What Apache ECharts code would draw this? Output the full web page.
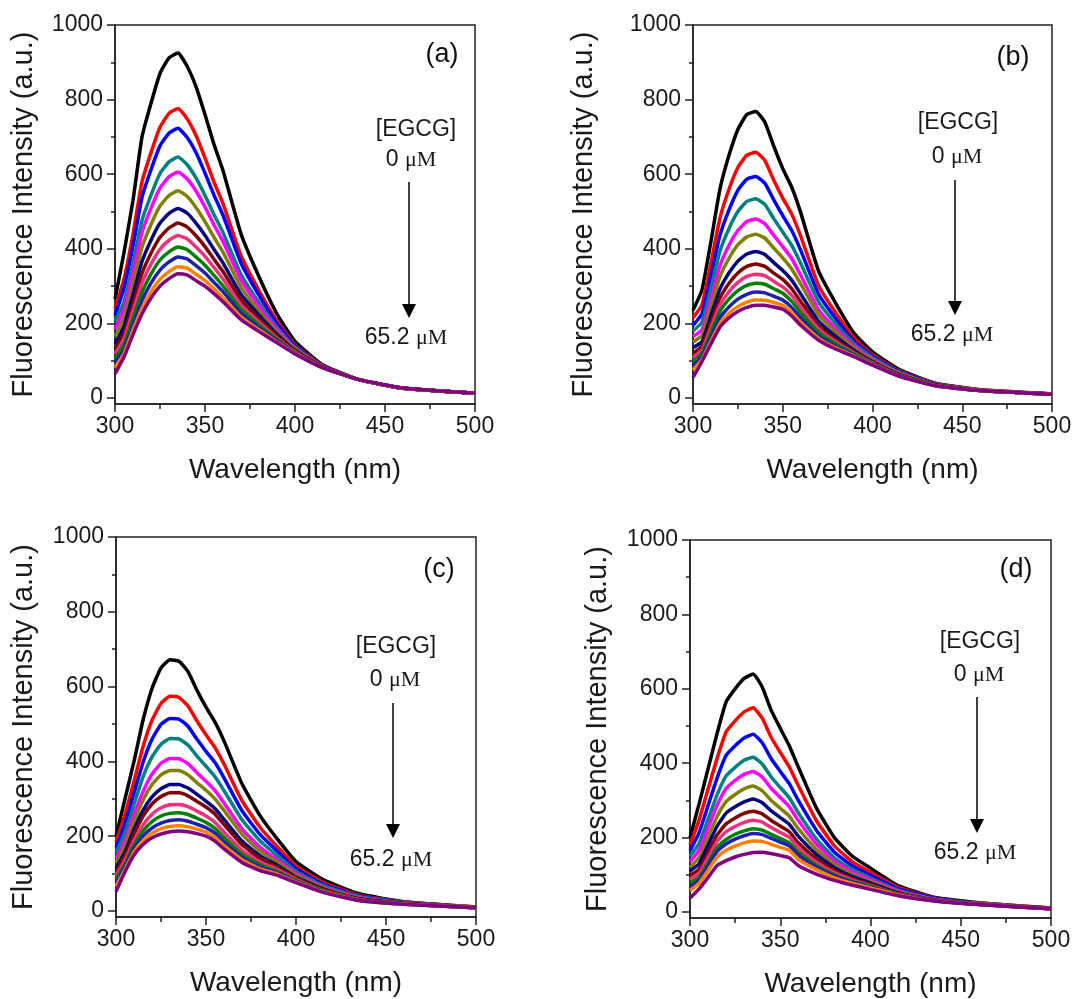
<!DOCTYPE html>
<html>
<head>
<meta charset="utf-8">
<script src="https://cdn.jsdelivr.net/npm/echarts@6/dist/echarts.min.js"></script>
<style>
  html, body { margin: 0; padding: 0; background: #fff; }
  #chart { width: 1076px; height: 999px; }
</style>
</head>
<body>
<div id="chart"></div>
<script>
// wavelength grid (nm) the spectra were read at
const wavelength = [300, 305, 310, 315, 320, 325, 330, 335, 340, 345, 350, 355, 360, 370, 380, 390, 400, 415, 435, 460, 500];

// one row per EGCG step, 0 uM (black) -> 65.2 uM (purple)
const intensityA = [
  [265, 390, 530, 700, 790, 870, 912, 925, 890, 835, 760, 680, 610, 440, 325, 225, 152, 90, 50, 26, 13],
  [240, 319, 439, 580, 658, 726, 763, 776, 749, 704, 644, 579, 521, 382, 288, 206, 143, 88, 50, 26, 13],
  [222, 295, 407, 538, 612, 676, 710, 723, 699, 658, 603, 544, 490, 362, 275, 199, 140, 87, 50, 26, 13],
  [205, 258, 360, 476, 544, 602, 633, 646, 626, 590, 543, 492, 444, 332, 256, 189, 136, 86, 50, 26, 13],
  [185, 239, 336, 444, 509, 563, 593, 606, 588, 555, 512, 464, 420, 316, 246, 183, 134, 86, 50, 26, 13],
  [165, 216, 306, 404, 465, 515, 543, 556, 541, 511, 473, 431, 391, 297, 233, 177, 131, 85, 50, 26, 13],
  [145, 193, 277, 366, 423, 469, 495, 508, 496, 469, 436, 398, 362, 278, 222, 171, 128, 84, 50, 26, 13],
  [130, 174, 253, 334, 388, 431, 456, 469, 459, 435, 406, 372, 339, 263, 212, 166, 126, 84, 50, 26, 13],
  [118, 159, 233, 308, 359, 399, 423, 436, 427, 405, 380, 350, 319, 250, 204, 161, 124, 83, 50, 26, 13],
  [105, 144, 214, 283, 332, 370, 392, 405, 398, 378, 356, 329, 301, 238, 196, 157, 122, 83, 50, 26, 13],
  [95, 131, 197, 261, 308, 343, 365, 378, 373, 355, 335, 310, 285, 227, 189, 154, 121, 82, 50, 26, 13],
  [82, 119, 182, 240, 285, 318, 339, 352, 348, 332, 315, 293, 269, 217, 183, 150, 119, 82, 50, 26, 13],
  [65, 110, 170, 225, 268, 300, 320, 333, 330, 315, 300, 280, 258, 210, 178, 148, 118, 82, 50, 27, 13]
];

const intensityB = [
  [235, 290, 420, 560, 650, 720, 760, 768, 740, 675, 615, 565, 497, 340, 250, 172, 124, 76, 40, 22, 11],
  [215, 250, 362, 482, 559, 618, 651, 659, 637, 584, 536, 493, 434, 301, 225, 159, 116, 72, 39, 22, 11],
  [195, 226, 328, 436, 504, 557, 587, 594, 576, 531, 489, 449, 396, 278, 210, 151, 112, 70, 38, 21, 11],
  [180, 203, 296, 393, 454, 500, 527, 534, 519, 481, 445, 409, 361, 257, 196, 144, 108, 68, 37, 21, 11],
  [165, 183, 267, 355, 409, 449, 473, 480, 467, 436, 406, 374, 329, 237, 183, 138, 104, 66, 36, 21, 10],
  [150, 168, 246, 325, 374, 411, 432, 439, 429, 402, 376, 346, 306, 223, 174, 133, 101, 65, 36, 21, 10],
  [135, 151, 221, 292, 335, 367, 386, 393, 385, 363, 342, 316, 279, 206, 163, 127, 98, 63, 35, 20, 10],
  [120, 139, 203, 268, 307, 335, 353, 359, 353, 335, 318, 293, 259, 194, 155, 123, 96, 62, 35, 20, 10],
  [108, 129, 189, 249, 285, 310, 326, 332, 328, 313, 298, 275, 243, 185, 149, 120, 94, 61, 34, 20, 10],
  [97, 120, 176, 232, 265, 288, 302, 308, 305, 293, 281, 259, 229, 176, 144, 117, 92, 60, 34, 20, 10],
  [87, 111, 163, 215, 244, 265, 278, 284, 282, 273, 263, 243, 215, 167, 138, 114, 90, 59, 33, 20, 10],
  [75, 103, 152, 200, 227, 245, 257, 263, 262, 256, 248, 229, 203, 160, 133, 112, 89, 58, 33, 20, 10],
  [55, 98, 145, 190, 215, 232, 243, 249, 249, 244, 238, 220, 195, 155, 130, 110, 88, 58, 33, 20, 10]
];

const intensityC = [
  [200, 300, 400, 510, 595, 650, 672, 668, 640, 590, 545, 505, 455, 340, 255, 190, 132, 84, 46, 25, 11],
  [185, 258, 347, 439, 510, 555, 574, 571, 548, 508, 471, 437, 393, 295, 224, 170, 120, 77, 42, 24, 11],
  [170, 234, 315, 397, 459, 499, 515, 513, 494, 459, 427, 397, 356, 268, 205, 158, 113, 72, 40, 23, 10],
  [155, 210, 285, 358, 412, 446, 461, 460, 444, 414, 387, 359, 322, 244, 188, 146, 106, 68, 38, 22, 10],
  [140, 188, 257, 319, 366, 395, 408, 407, 394, 370, 347, 322, 289, 219, 171, 135, 100, 64, 36, 21, 10],
  [128, 174, 239, 296, 338, 364, 376, 376, 364, 343, 323, 300, 269, 205, 160, 129, 96, 62, 34, 20, 10],
  [115, 158, 218, 269, 305, 327, 338, 338, 329, 312, 294, 274, 245, 187, 148, 121, 91, 59, 33, 20, 9],
  [105, 149, 206, 253, 286, 306, 316, 316, 308, 293, 278, 259, 231, 177, 141, 116, 89, 58, 32, 20, 9],
  [95, 136, 189, 230, 259, 276, 284, 285, 279, 267, 254, 237, 211, 163, 131, 110, 85, 55, 31, 19, 9],
  [85, 126, 177, 214, 239, 254, 261, 263, 258, 248, 237, 221, 197, 152, 124, 105, 82, 54, 30, 19, 9],
  [75, 118, 167, 200, 222, 235, 242, 244, 240, 232, 223, 208, 185, 144, 118, 101, 80, 52, 29, 18, 9],
  [65, 111, 158, 188, 208, 220, 226, 228, 225, 219, 211, 197, 175, 137, 113, 98, 78, 51, 28, 18, 9],
  [52, 105, 150, 178, 196, 206, 212, 214, 212, 207, 200, 187, 166, 130, 108, 95, 76, 50, 28, 18, 9]
];

const intensityD = [
  [200, 290, 385, 480, 565, 600, 628, 640, 605, 542, 494, 447, 390, 280, 200, 150, 118, 72, 40, 25, 11],
  [180, 247, 330, 413, 484, 514, 538, 549, 521, 469, 429, 390, 340, 246, 178, 135, 107, 67, 38, 24, 11],
  [165, 213, 286, 360, 421, 447, 468, 478, 455, 412, 378, 345, 300, 220, 161, 124, 99, 63, 37, 23, 10],
  [150, 184, 249, 315, 366, 389, 408, 416, 398, 363, 335, 307, 267, 197, 146, 114, 91, 59, 35, 23, 10],
  [135, 166, 226, 287, 332, 354, 370, 378, 363, 332, 308, 283, 246, 183, 137, 107, 87, 57, 35, 22, 10],
  [120, 147, 202, 257, 297, 316, 331, 339, 326, 300, 279, 258, 224, 168, 128, 101, 82, 54, 34, 22, 10],
  [110, 130, 180, 231, 266, 283, 296, 304, 294, 272, 254, 236, 204, 155, 119, 95, 78, 52, 33, 21, 10],
  [98, 115, 161, 207, 237, 253, 265, 271, 264, 246, 231, 216, 186, 143, 112, 90, 74, 50, 32, 21, 9],
  [88, 103, 146, 190, 216, 230, 241, 247, 242, 227, 214, 201, 173, 134, 106, 86, 71, 49, 32, 21, 9],
  [78, 93, 132, 173, 195, 209, 218, 224, 220, 209, 198, 186, 161, 126, 100, 82, 69, 48, 31, 21, 9],
  [68, 86, 124, 163, 183, 196, 205, 211, 208, 198, 188, 178, 153, 121, 97, 80, 67, 47, 31, 20, 9],
  [58, 77, 112, 148, 166, 177, 186, 191, 190, 182, 174, 166, 142, 114, 92, 77, 65, 46, 30, 20, 9],
  [38, 62, 93, 125, 138, 148, 155, 160, 161, 157, 152, 146, 125, 102, 85, 72, 61, 44, 30, 20, 9]
];

const yMajorTicks = [0, 200, 400, 600, 800, 1000];
const yMinorTicks = [100, 300, 500, 700, 900];
const panelTags = ['(a)', '(b)', '(c)', '(d)'];
const concStart = '0';
const concEnd = '65.2';

// Origin-like line colours
const lineColors = ['#000000', '#ff0000', '#0000ff', '#008080', '#ff00ff', '#808000', '#000080',
  '#800000', '#f0307a', '#008000', '#2020b0', '#ff8000', '#800080'];

const axisColor = '#222222';
const sans = 'Liberation Sans, Arial, sans-serif';
const serif = 'Liberation Serif, Times New Roman, serif';

// layout of the four panels (pixels)
const panels = [
  {grid: {left: 115, top: 25, width: 360, height: 379}, data: intensityA, yGap: 77,
    tag: [442, 55], egcg: [416, 130], zero: [411, 160], arrow: [409, 182, 318], end: [406, 338]},
  {grid: {left: 693, top: 25, width: 359, height: 379}, data: intensityB, yGap: 95,
    tag: [1013, 58], egcg: [958, 123], zero: [957, 157], arrow: [955, 180, 315], end: [952, 335]},
  {grid: {left: 116, top: 537, width: 360, height: 380}, data: intensityC, yGap: 78,
    tag: [439, 570], egcg: [396, 647], zero: [395, 680], arrow: [393, 703, 838], end: [391, 860]},
  {grid: {left: 690, top: 540, width: 361, height: 381}, data: intensityD, yGap: 78,
    tag: [1016, 570], egcg: [980, 642], zero: [979, 675], arrow: [977, 697, 833], end: [975, 853]}
];

const chart = echarts.init(document.getElementById('chart'), null, {renderer: 'canvas'});

const grids = [];
const xAxes = [];
const yAxes = [];
const series = [];
const graphics = [];

panels.forEach((p, pi) => {
  grids.push(Object.assign({show: true, borderColor: axisColor, borderWidth: 1.5}, p.grid));

  xAxes.push({
    gridIndex: pi,
    type: 'value',
    min: 300,
    max: 500,
    interval: 50,
    axisLine: {show: true, onZero: false, lineStyle: {color: axisColor, width: 1.5}},
    axisTick: {show: true, length: 8, lineStyle: {color: axisColor, width: 1.5}},
    minorTick: {show: true, splitNumber: 2, length: 5, lineStyle: {color: axisColor, width: 1.5}},
    axisLabel: {fontFamily: sans, fontSize: 23, color: '#1a1a1a', margin: 11},
    splitLine: {show: false},
    name: 'Wavelength (nm)',
    nameLocation: 'middle',
    nameGap: 52,
    nameTextStyle: {fontFamily: sans, fontSize: 28, color: '#1a1a1a'}
  });

  yAxes.push({
    gridIndex: pi,
    type: 'value',
    min: -16,
    max: 1000,
    axisLine: {show: true, onZero: false, lineStyle: {color: axisColor, width: 1.5}},
    axisTick: {show: true, length: 8, customValues: yMajorTicks, lineStyle: {color: axisColor, width: 1.5}},
    axisLabel: {
      customValues: yMajorTicks, fontFamily: sans, fontSize: 23, color: '#1a1a1a', margin: 12,
      formatter: (v) => String(v)
    },
    splitLine: {show: false},
    name: 'Fluorescence Intensity (a.u.)',
    nameLocation: 'middle',
    nameGap: p.yGap,
    nameTextStyle: {fontFamily: sans, fontSize: 29, color: '#1a1a1a'}
  });
  // second axis only for the short minor ticks
  yAxes.push({
    gridIndex: pi,
    type: 'value',
    min: -16,
    max: 1000,
    position: 'left',
    axisLine: {show: false},
    axisTick: {show: true, length: 4, customValues: yMinorTicks, lineStyle: {color: axisColor, width: 1.5}},
    axisLabel: {show: true, customValues: yMinorTicks, formatter: () => ''},
    splitLine: {show: false}
  });

  p.data.forEach((row, ci) => {
    series.push({
      type: 'line',
      xAxisIndex: pi,
      yAxisIndex: pi * 2,
      showSymbol: false,
      smooth: 0.15,
      color: lineColors[ci],
      lineStyle: {width: 3.5, color: lineColors[ci]},
      data: wavelength.map((w, i) => [w, row[i]])
    });
  });

  // annotations
  graphics.push({
    type: 'text', x: p.tag[0], y: p.tag[1],
    style: {text: panelTags[pi], font: '27px ' + sans, fill: '#111', textAlign: 'center', textVerticalAlign: 'middle'}
  });
  graphics.push({
    type: 'text', x: p.egcg[0], y: p.egcg[1],
    style: {text: '[EGCG]', font: '23px ' + sans, fill: '#1a1a1a', textAlign: 'center', textVerticalAlign: 'middle'}
  });
  graphics.push({
    type: 'text', x: p.zero[0], y: p.zero[1],
    style: {
      text: '{n|' + concStart + ' }{u|μM}',
      textAlign: 'center', textVerticalAlign: 'middle',
      rich: {
        n: {fontFamily: sans, fontSize: 23, fill: '#1a1a1a'},
        u: {fontFamily: serif, fontSize: 22, fill: '#1a1a1a'}
      }
    }
  });
  graphics.push({
    type: 'text', x: p.end[0], y: p.end[1],
    style: {
      text: '{n|' + concEnd + ' }{u|μM}',
      textAlign: 'center', textVerticalAlign: 'middle',
      rich: {
        n: {fontFamily: sans, fontSize: 23, fill: '#1a1a1a'},
        u: {fontFamily: serif, fontSize: 22, fill: '#1a1a1a'}
      }
    }
  });
  const ax = p.arrow[0], y1 = p.arrow[1], tip = p.arrow[2];
  graphics.push({
    type: 'line',
    shape: {x1: ax, y1: y1, x2: ax, y2: tip - 12},
    style: {stroke: '#000', lineWidth: 1.5}
  });
  graphics.push({
    type: 'polygon',
    shape: {points: [[ax - 7, tip - 14], [ax + 7, tip - 14], [ax, tip]]},
    style: {fill: '#000'}
  });
});

chart.setOption({
  animation: false,
  backgroundColor: '#ffffff',
  grid: grids,
  xAxis: xAxes,
  yAxis: yAxes,
  series: series,
  graphic: graphics
});
</script>
</body>
</html>
